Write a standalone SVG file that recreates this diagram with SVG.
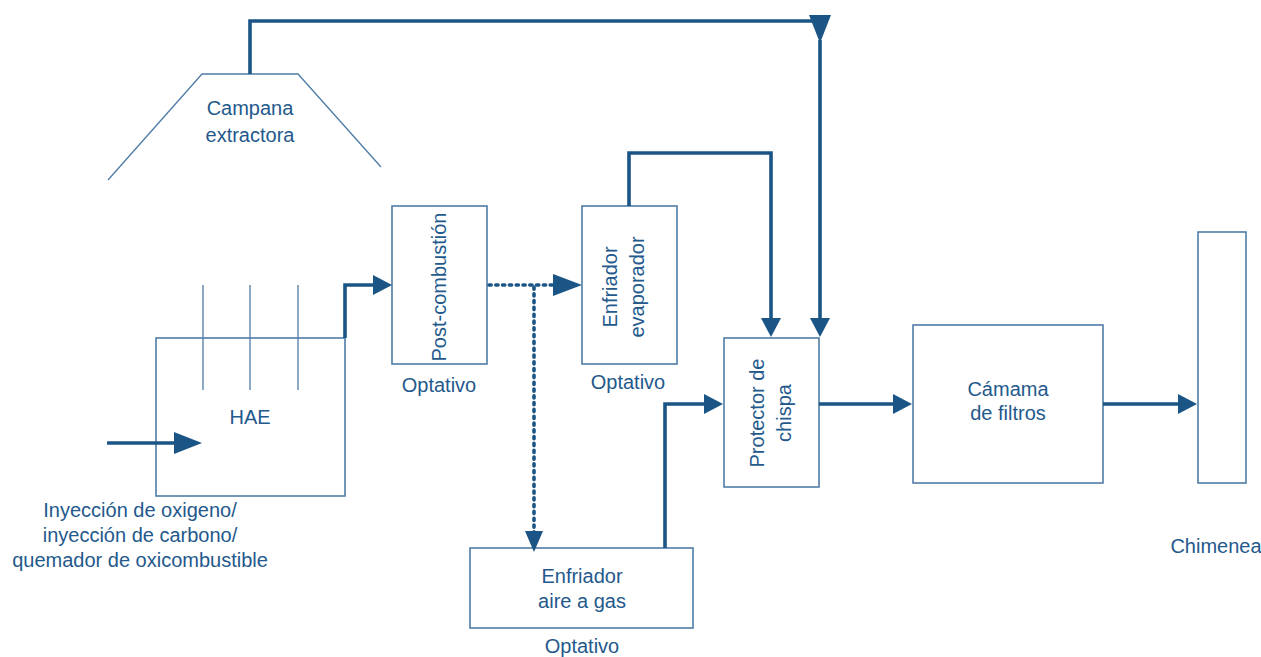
<svg xmlns="http://www.w3.org/2000/svg" width="1261" height="657" viewBox="0 0 1261 657">
  <style>
    .box { fill: none; stroke: #4f7ca7; stroke-width: 1.6; }
    .thin { fill: none; stroke: #4f7ca7; stroke-width: 1.3; }
    .flow { fill: none; stroke: #1b5586; stroke-width: 3.6; }
    .dot { fill: none; stroke: #1b5586; stroke-width: 3.6; stroke-dasharray: 2.2 4.6; stroke-linecap: round; }
    .lbl { font-family: "Liberation Sans", Arial, sans-serif; font-size: 20px; fill: #24598c; text-anchor: middle; }
  </style>
  <defs>
    <!-- heads overhang the path end by 5px so the stroke stays inside the triangle -->
    <marker id="bigHead" markerUnits="userSpaceOnUse" markerWidth="30" markerHeight="24" refX="23" refY="11" orient="auto">
      <path d="M0,0 L28,11 L0,22 Z" fill="#1b5586"/>
    </marker>
    <marker id="smallHead" markerUnits="userSpaceOnUse" markerWidth="22" markerHeight="22" refX="14" refY="10" orient="auto">
      <path d="M0,0 L19,10 L0,20 Z" fill="#1b5586"/>
    </marker>
  </defs>

  <!-- extraction hood -->
  <g id="campana">
    <path class="thin" d="M108,180 L202,74 H298 L381,167"/>
    <text class="lbl" x="250" y="115">Campana</text>
    <text class="lbl" x="250" y="142">extractora</text>
  </g>

  <!-- electric arc furnace with electrodes -->
  <g id="hae">
    <rect class="box" x="156" y="338" width="189" height="158"/>
    <path class="thin" d="M203,285 V390 M250,285 V390 M298,285 V390"/>
    <text class="lbl" x="250" y="424">HAE</text>
  </g>

  <g id="inyeccion">
    <text class="lbl" x="140" y="517">Inyección de oxigeno/</text>
    <text class="lbl" x="140" y="542">inyección de carbono/</text>
    <text class="lbl" x="140" y="567">quemador de oxicombustible</text>
  </g>

  <g id="postcombustion">
    <rect class="box" x="392" y="206" width="95" height="158"/>
    <text class="lbl" transform="translate(439,287) rotate(-90)" x="0" y="7">Post-combustión</text>
    <text class="lbl" x="439" y="392">Optativo</text>
  </g>

  <g id="enfriador-evaporador">
    <rect class="box" x="582" y="206" width="95" height="158"/>
    <text class="lbl" transform="translate(624,287) rotate(-90)" x="0" y="-7">Enfriador</text>
    <text class="lbl" transform="translate(624,287) rotate(-90)" x="0" y="20">evaporador</text>
    <text class="lbl" x="628" y="389">Optativo</text>
  </g>

  <g id="enfriador-aire">
    <rect class="box" x="470" y="548" width="223" height="80"/>
    <text class="lbl" x="582" y="583">Enfriador</text>
    <text class="lbl" x="582" y="608">aire a gas</text>
    <text class="lbl" x="582" y="653">Optativo</text>
  </g>

  <g id="protector">
    <rect class="box" x="724" y="338" width="95" height="149"/>
    <text class="lbl" transform="translate(771,413) rotate(-90)" x="0" y="-7">Protector de</text>
    <text class="lbl" transform="translate(771,413) rotate(-90)" x="0" y="20">chispa</text>
  </g>

  <g id="camara-filtros">
    <rect class="box" x="913" y="325" width="190" height="158"/>
    <text class="lbl" x="1008" y="396">Cámama</text>
    <text class="lbl" x="1008" y="420">de filtros</text>
  </g>

  <g id="chimenea">
    <rect class="box" x="1198" y="232" width="48" height="251"/>
    <text class="lbl" x="1216" y="553">Chimenea</text>
  </g>

  <!-- gas flow connectors -->
  <g id="connectors">
    <path class="flow" d="M250,74 V21 H820 V38" marker-end="url(#bigHead)"/>
    <path class="flow" d="M820,40 V332" marker-end="url(#smallHead)"/>
    <path class="flow" d="M629,206 V153 H771 V332" marker-end="url(#smallHead)"/>
    <path class="flow" d="M107,443 H197" marker-end="url(#bigHead)"/>
    <path class="flow" d="M345,338 V285 H387" marker-end="url(#smallHead)"/>
    <path class="dot" d="M489,285 H555"/>
    <path d="M553,274 L582,285 L553,296 Z" fill="#1b5586"/>
    <path class="dot" d="M534,287 V535"/>
    <path d="M525,531 L534,552 L543,531 Z" fill="#1b5586"/>
    <path class="flow" d="M665,548 V404 H718" marker-end="url(#smallHead)"/>
    <path class="flow" d="M819,404 H907" marker-end="url(#smallHead)"/>
    <path class="flow" d="M1103,404 H1192" marker-end="url(#smallHead)"/>
  </g>
</svg>
